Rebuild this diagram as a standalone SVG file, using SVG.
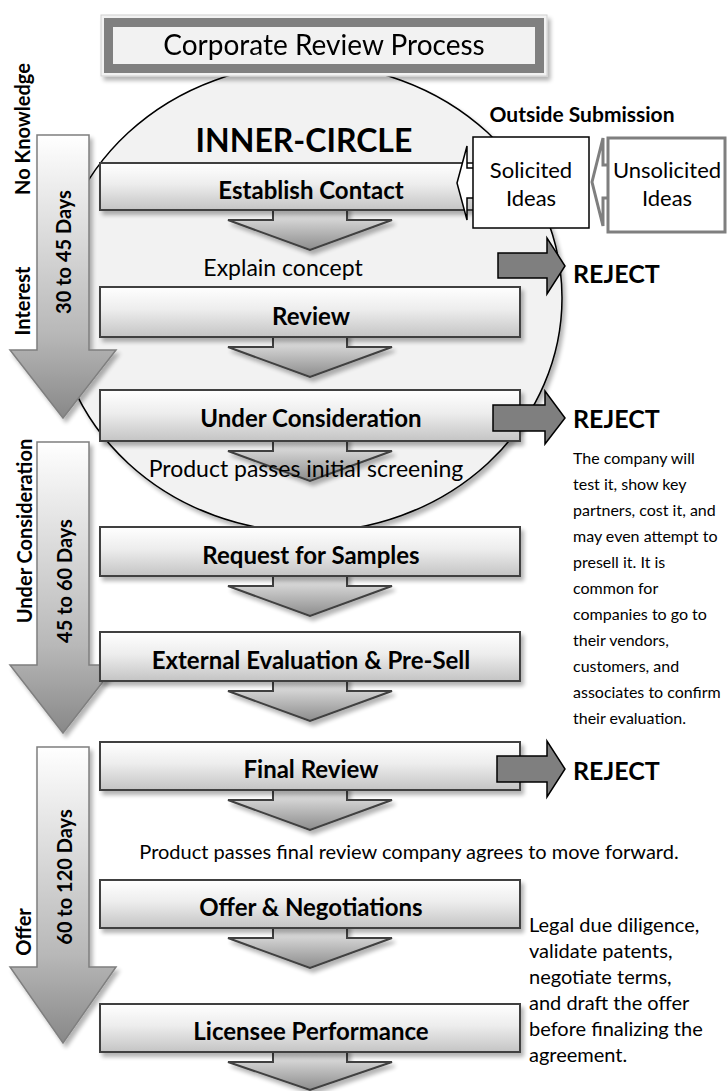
<svg xmlns="http://www.w3.org/2000/svg" width="728" height="1091" viewBox="0 0 728 1091">
  <defs>
    <linearGradient id="gBox" x1="0" y1="0" x2="0" y2="1">
      <stop offset="0" stop-color="#ffffff"/>
      <stop offset="0.45" stop-color="#ededed"/>
      <stop offset="1" stop-color="#c4c4c4"/>
    </linearGradient>
    <linearGradient id="gDown" x1="0" y1="0" x2="0" y2="1">
      <stop offset="0" stop-color="#f2f2f2"/>
      <stop offset="1" stop-color="#8c8c8c"/>
    </linearGradient>
    <linearGradient id="gSide" x1="0" y1="0" x2="0" y2="1">
      <stop offset="0" stop-color="#ffffff"/>
      <stop offset="0.7" stop-color="#b8b8b8"/>
      <stop offset="1" stop-color="#888888"/>
    </linearGradient>
    <filter id="shadow" x="-10%" y="-10%" width="130%" height="150%">
      <feGaussianBlur in="SourceAlpha" stdDeviation="2"/>
      <feOffset dx="3" dy="4"/>
      <feComponentTransfer><feFuncA type="linear" slope="0.3"/></feComponentTransfer>
      <feMerge><feMergeNode/><feMergeNode in="SourceGraphic"/></feMerge>
    </filter>
    <style>
      .box { fill: url(#gBox); stroke: #404040; stroke-width: 2; filter: url(#shadow); }
      .dn { fill: url(#gDown); stroke: #404040; stroke-width: 2; filter: url(#shadow); }
      .side { fill: url(#gSide); stroke: #7f7f7f; stroke-width: 1.5; filter: url(#shadow); }
      .rej { fill: #7f7f7f; stroke: #000; stroke-width: 1.5; }
      text { font-family: Lato, "Liberation Sans", sans-serif; fill: #000; }
      .lbl { font-weight: 700; font-size: 24px; text-anchor: middle; }
      .cap { font-size: 23px; text-anchor: middle; }
      .side-t { font-weight: 700; font-size: 20px; text-anchor: middle; }
      .rej-t { font-weight: 700; font-size: 25px; }
      .note { font-size: 16px; }
      .note2 { font-size: 20px; }
      .idea { font-size: 22px; text-anchor: middle; }
    </style>
  </defs>

  <!-- inner circle backdrop -->
  <g id="inner-circle">
    <ellipse cx="308" cy="298" rx="254" ry="234" fill="#f2f2f2" stroke="#000" stroke-width="1.5" filter="url(#shadow)"/>
    <text x="304" y="152" font-size="32" font-weight="700" text-anchor="middle">INNER-CIRCLE</text>
  </g>

  <!-- title banner -->
  <g id="title" filter="url(#shadow)">
    <rect x="101" y="15" width="446" height="61" fill="#f2f2f2" stroke="#d0d0d0" stroke-width="1"/>
    <rect x="104" y="18" width="440" height="55" fill="#808080"/>
    <rect x="113" y="27" width="422" height="37" fill="#f2f2f2"/>
    <text x="324" y="55" font-size="28" text-anchor="middle">Corporate Review Process</text>
  </g>

  <!-- timeline phases on the left -->
  <g id="phase-1">
    <path class="side" d="M37,135 H89 V350 H116 L63,418 L10,350 H37 Z"/>
    <text class="side-t" transform="translate(71,252) rotate(-90)" font-size="21">30 to 45 Days</text>
    <text class="side-t" transform="translate(30,129) rotate(-90)">No Knowledge</text>
    <text class="side-t" transform="translate(30,301) rotate(-90)">Interest</text>
  </g>
  <g id="phase-2">
    <path class="side" d="M37,442 H89 V665 H116 L63,733 L10,665 H37 Z"/>
    <text class="side-t" transform="translate(72,581) rotate(-90)" font-size="22">45 to 60 Days</text>
    <text class="side-t" transform="translate(32,531) rotate(-90)" font-size="23">Under Consideration</text>
  </g>
  <g id="phase-3">
    <path class="side" d="M37,747 H89 V967 H116 L63,1043 L10,967 H37 Z"/>
    <text class="side-t" transform="translate(72,877) rotate(-90)" font-size="22">60 to 120 Days</text>
    <text class="side-t" transform="translate(31,932) rotate(-90)" font-size="21">Offer</text>
  </g>

  <!-- flow arrows between the stages -->
  <g id="connectors">
    <path class="dn" d="M273,206 H347 V220 H392 L310,250 L228,220 H273 Z"/>
    <path class="dn" d="M273,333 H347 V347 H392 L310,377 L228,347 H273 Z"/>
    <path class="dn" d="M273,437 H347 V451 H392 L310,481 L228,451 H273 Z"/>
    <path class="dn" d="M273,572 H347 V586 H392 L310,616 L228,586 H273 Z"/>
    <path class="dn" d="M273,677 H347 V691 H392 L310,721 L228,691 H273 Z"/>
    <path class="dn" d="M273,786 H347 V800 H392 L310,830 L228,800 H273 Z"/>
    <path class="dn" d="M273,924 H347 V938 H392 L310,968 L228,938 H273 Z"/>
    <path class="dn" d="M273,1048 H347 V1062 H392 L310,1090 L228,1062 H273 Z"/>
  </g>

  <!-- stages -->
  <g id="establish-contact">
    <rect class="box" x="100" y="163" width="420" height="47"/>
    <text class="lbl" x="311" y="199">Establish Contact</text>
  </g>
  <text class="cap" x="283" y="276">Explain concept</text>
  <g id="review">
    <rect class="box" x="100" y="287" width="420" height="50"/>
    <text class="lbl" x="311" y="325">Review</text>
  </g>
  <g id="under-consideration">
    <rect class="box" x="100" y="390" width="420" height="51"/>
    <text class="lbl" x="311" y="427">Under Consideration</text>
  </g>
  <text class="cap" x="306" y="477" font-size="25">Product passes initial screening</text>
  <g id="request-samples">
    <rect class="box" x="100" y="527" width="420" height="49"/>
    <text class="lbl" x="311" y="564">Request for Samples</text>
  </g>
  <g id="external-evaluation">
    <rect class="box" x="100" y="632" width="420" height="49"/>
    <text class="lbl" x="311" y="669">External Evaluation &amp; Pre-Sell</text>
  </g>
  <g id="final-review">
    <rect class="box" x="100" y="742" width="420" height="48"/>
    <text class="lbl" x="311" y="778">Final Review</text>
  </g>
  <text class="note2" x="409" y="859" text-anchor="middle">Product passes final review company agrees to move forward.</text>
  <g id="offer-negotiations">
    <rect class="box" x="100" y="880" width="420" height="48"/>
    <text class="lbl" x="311" y="916">Offer &amp; Negotiations</text>
  </g>
  <g id="licensee-performance">
    <rect class="box" x="100" y="1004" width="420" height="48"/>
    <text class="lbl" x="311" y="1040">Licensee Performance</text>
  </g>

  <!-- rejection exits -->
  <g id="reject-1">
    <path class="rej" d="M498,253 H547 V238 L565,266 L547,294 V278 H498 Z"/>
    <text class="rej-t" x="573" y="283">REJECT</text>
  </g>
  <g id="reject-2">
    <path class="rej" d="M493,405 H545 V391 L565,418 L545,444 V431 H493 Z"/>
    <text class="rej-t" x="573" y="428">REJECT</text>
  </g>
  <g id="reject-3">
    <path class="rej" d="M497,756 H547 V741 L565,769 L547,797 V782 H497 Z"/>
    <text class="rej-t" x="573" y="780">REJECT</text>
  </g>

  <!-- side notes -->
  <g id="note-evaluation" class="note">
    <text x="573" y="464">The company will</text>
    <text x="573" y="490">test it, show key</text>
    <text x="573" y="516">partners, cost it, and</text>
    <text x="573" y="542">may even attempt to</text>
    <text x="573" y="568">presell it. It is</text>
    <text x="573" y="594">common for</text>
    <text x="573" y="620">companies to go to</text>
    <text x="573" y="646">their vendors,</text>
    <text x="573" y="672">customers, and</text>
    <text x="573" y="698">associates to confirm</text>
    <text x="573" y="724">their evaluation.</text>
  </g>
  <g id="note-offer" class="note2">
    <text x="529" y="932">Legal due diligence,</text>
    <text x="529" y="958">validate patents,</text>
    <text x="529" y="984">negotiate terms,</text>
    <text x="529" y="1010">and draft the offer</text>
    <text x="529" y="1036">before finalizing the</text>
    <text x="529" y="1062">agreement.</text>
  </g>

  <!-- outside submissions -->
  <g id="outside-submission">
    <text x="582" y="122" font-size="21" font-weight="700" text-anchor="middle">Outside Submission</text>
  </g>
  <g id="solicited-ideas">
    <path d="M457,183 L467,146 V168 H500 V198 H467 V220 Z" fill="#fff" stroke="#000" stroke-width="1.5"/>
    <rect x="473" y="137" width="116" height="91" fill="#fff" stroke="#000" stroke-width="1.5"/>
    <text class="idea" x="531" y="178">Solicited</text>
    <text class="idea" x="531" y="206">Ideas</text>
  </g>
  <g id="unsolicited-ideas">
    <path d="M592,182 L603,138 V165 H640 V198 H603 V226 Z" fill="#fff" stroke="#7f7f7f" stroke-width="3"/>
    <rect x="608" y="138" width="117" height="94" fill="#fff" stroke="#7f7f7f" stroke-width="3"/>
    <text class="idea" x="667" y="178">Unsolicited</text>
    <text class="idea" x="667" y="206">Ideas</text>
  </g>
</svg>
